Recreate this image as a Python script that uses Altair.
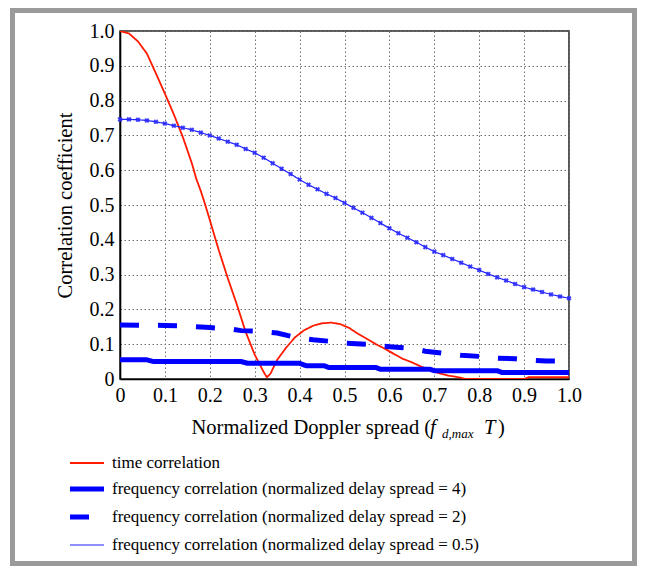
import altair as alt
import pandas as pd

# ---- data ----
series_names = [
    "time correlation",
    "frequency correlation (normalized delay spread = 4)",
    "frequency correlation (normalized delay spread = 2)",
    "frequency correlation (normalized delay spread = 0.5)",
]

time_x = [0, 0.02, 0.04, 0.06, 0.08, 0.10, 0.12, 0.14, 0.16, 0.17, 0.18, 0.19, 0.20,
          0.22, 0.24, 0.26, 0.28, 0.30, 0.31, 0.32, 0.327, 0.335, 0.35, 0.37, 0.39,
          0.41, 0.43, 0.45, 0.47, 0.49, 0.51, 0.53, 0.55, 0.57, 0.59, 0.61, 0.63,
          0.65, 0.67, 0.69, 0.71, 0.73, 0.75, 0.77, 0.90, 0.91, 1.0]
time_y = [1.0, 0.993, 0.97, 0.935, 0.878, 0.82, 0.76, 0.695, 0.62, 0.575, 0.54, 0.50, 0.457,
          0.37, 0.29, 0.215, 0.135, 0.07, 0.045, 0.02, 0.005, 0.015, 0.055, 0.09, 0.12,
          0.14, 0.153, 0.16, 0.162, 0.158, 0.147, 0.13, 0.115, 0.10, 0.087, 0.072, 0.058,
          0.048, 0.036, 0.025, 0.017, 0.01, 0.006, 0.0, 0.0, 0.005, 0.005]

d4_x = [0, 0.06, 0.075, 0.27, 0.285, 0.40, 0.415, 0.455, 0.465, 0.57, 0.58, 0.69, 0.70, 0.84, 0.85, 1.0]
d4_y = [0.055, 0.055, 0.05, 0.05, 0.045, 0.045, 0.038, 0.038, 0.033, 0.033, 0.028, 0.028, 0.024, 0.024, 0.019, 0.019]

d2_x = [0, 0.10, 0.15, 0.20, 0.25, 0.27, 0.30, 0.32, 0.35, 0.38, 0.40, 0.43, 0.47, 0.50,
        0.55, 0.58, 0.60, 0.65, 0.68, 0.72, 0.76, 0.80, 0.84, 0.88, 0.90, 0.95, 1.0]
d2_y = [0.155, 0.154, 0.152, 0.148, 0.143, 0.139, 0.138, 0.136, 0.132, 0.123, 0.118, 0.113,
        0.108, 0.103, 0.100, 0.095, 0.093, 0.088, 0.080, 0.074, 0.068, 0.065, 0.060, 0.058,
        0.055, 0.052, 0.052]

d05_x = [0, 0.02, 0.04, 0.06, 0.08, 0.10, 0.12, 0.14, 0.16, 0.18, 0.20, 0.22, 0.24, 0.26,
         0.28, 0.30, 0.32, 0.34, 0.36, 0.38, 0.40, 0.42, 0.44, 0.46, 0.48, 0.50, 0.52, 0.54,
         0.56, 0.58, 0.60, 0.62, 0.64, 0.66, 0.68, 0.70, 0.72, 0.74, 0.76, 0.78, 0.80, 0.82,
         0.84, 0.86, 0.88, 0.90, 0.92, 0.94, 0.96, 0.98, 1.00]
d05_y = [0.746, 0.746, 0.745, 0.743, 0.739, 0.734, 0.728, 0.722, 0.716, 0.708, 0.700, 0.691,
         0.682, 0.673, 0.661, 0.650, 0.636, 0.620, 0.604, 0.589, 0.573, 0.558, 0.545, 0.532,
         0.520, 0.506, 0.492, 0.478, 0.463, 0.448, 0.433, 0.419, 0.406, 0.393, 0.379, 0.366,
         0.356, 0.345, 0.334, 0.323, 0.313, 0.302, 0.292, 0.283, 0.273, 0.264, 0.257, 0.250,
         0.243, 0.237, 0.232]

tick_values = [0, 0.1, 0.2, 0.3, 0.4, 0.5, 0.6, 0.7, 0.8, 0.9, 1.0]
y_title = "Correlation coefficient"
x_title_main = "Normalized Doppler spread ("
x_title_f = "f"
x_title_sub = "d,max"
x_title_T = "T"
x_title_close = ")"

# ---- styles ----
series_colors = ["#ff1a00", "#0000ff", "#0000ff", "#2020ff"]
series_dashes = [[1, 0], [1, 0], [19, 19], [1, 0]]
series_widths = [1.8, 5, 5, 1.2]

# ---- tables ----
rows = []
for name, xs, ys in [(series_names[0], time_x, time_y),
                     (series_names[1], d4_x, d4_y),
                     (series_names[2], d2_x, d2_y),
                     (series_names[3], d05_x, d05_y)]:
    for a, b in zip(xs, ys):
        rows.append({"x": a, "y": b, "series": name})
df = pd.DataFrame(rows)
df_markers = pd.DataFrame({"x": d05_x, "y": d05_y})
one = pd.DataFrame({"k": [0]})

# expression mapping series name -> stroke width
def width_expr(var):
    expr = str(series_widths[-1])
    for n, w in zip(series_names[:-1][::-1], series_widths[:-1][::-1]):
        expr = f"({var} == '{n}' ? {w} : {expr})"
    return expr

FONT = "Liberation Serif"
label_expr = "datum.value == 0 ? '0' : format(datum.value, '.1f')"

axis_common = dict(values=tick_values, labelExpr=label_expr,
                   labelFont=FONT, labelFontSize=20, labelColor="black",
                   labelPadding=6, ticks=False, grid=True, labelOverlap=False,
                   gridDash=[1.5, 2.5], gridColor="#707070", gridWidth=1,
                   domainColor="black", domainWidth=1.6, labelFlush=False)

x_enc = alt.X("x:Q", scale=alt.Scale(domain=[0, 1], nice=False),
              axis=alt.Axis(title=None, **axis_common))
y_enc = alt.Y("y:Q", scale=alt.Scale(domain=[0, 1], nice=False),
              axis=alt.Axis(title=y_title, titleFont=FONT, titleFontSize=20.5,
                            titleFontWeight="normal", titleColor="black",
                            titlePadding=14, **axis_common))

leg = alt.Legend(title=None, orient="none", legendX=-51, legendY=414,
                 labelFont=FONT, labelFontSize=17, labelColor="black", labelLimit=600,
                 symbolSize=1156, labelOffset=7, rowPadding=-7.5,
                 symbolStrokeWidth=alt.ExprRef(expr=width_expr("datum.value")))

lines = alt.Chart(df).transform_calculate(
    w=width_expr("datum.series")
).mark_line(clip=True).encode(
    x=x_enc, y=y_enc,
    color=alt.Color("series:N", scale=alt.Scale(domain=series_names, range=series_colors),
                    legend=leg),
    strokeDash=alt.StrokeDash("series:N", scale=alt.Scale(domain=series_names,
                              range=series_dashes), legend=leg),
    strokeWidth=alt.StrokeWidth("w:Q", scale=None, legend=None),
)

markers = alt.Chart(df_markers).mark_point(shape="cross", angle=45, size=26, filled=True,
                                           color="#2a2aff", opacity=0.9).encode(
    x=x_enc, y=y_enc)

frame = alt.Chart(one).mark_rect(fillOpacity=0, stroke="#9a9a9a", strokeWidth=5).encode(
    x=alt.value(-107.5), x2=alt.value(514.5), y=alt.value(-20.5), y2=alt.value(532.5))

def txt(s, xpos, ypos, size=20.5, style="normal"):
    return alt.Chart(one).mark_text(text=s, font=FONT, fontSize=size, fontStyle=style,
                                    align="left", baseline="alphabetic", color="black").encode(
        x=alt.value(xpos), y=alt.value(ypos))

title_layers = [
    txt(x_title_main, 71.5, 403),
    txt(x_title_f, 310, 403, style="italic"),
    txt(x_title_sub, 322, 407, size=13, style="italic"),
    txt(x_title_T, 364, 403, style="italic"),
    txt(x_title_close, 378, 403),
]

chart = alt.layer(frame, lines, markers, *title_layers).properties(
    width=449, height=348,
    autosize=alt.AutoSizeParams(type="none"),
    padding={"left": 112, "top": 23, "right": 68, "bottom": 187},
    background="white",
).configure_view(stroke="#222222", strokeWidth=1.5).configure_axis(labelOverlap=False)

chart.save("out.html", embed_options={"renderer": "svg", "actions": False})
